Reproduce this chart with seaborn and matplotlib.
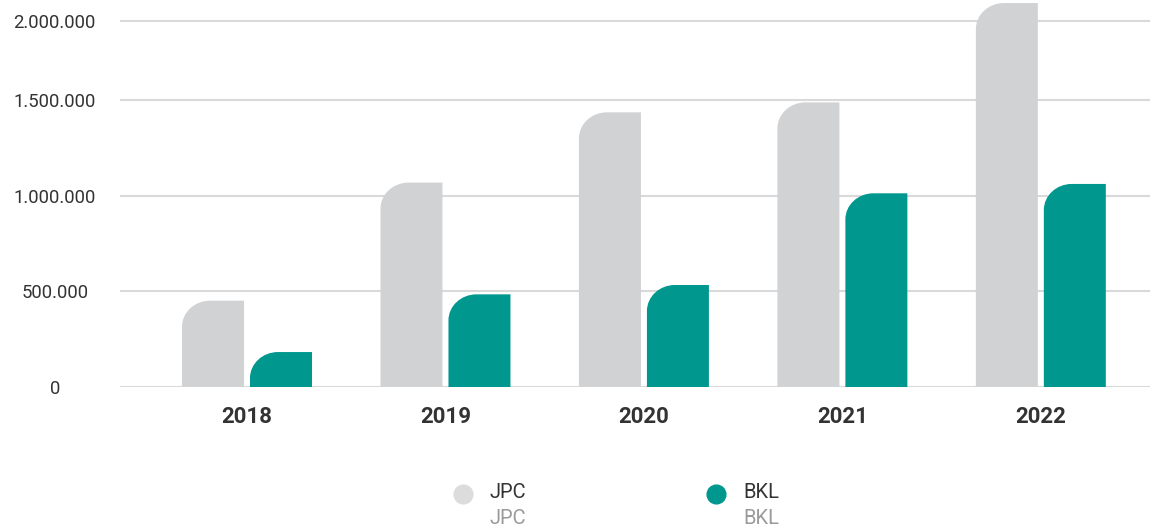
import matplotlib
matplotlib.use("Agg")
import matplotlib.pyplot as plt
import seaborn as sns
import pandas as pd
from matplotlib.path import Path
from matplotlib.patches import PathPatch
from matplotlib.lines import Line2D

years = ["2018", "2019", "2020", "2021", "2022"]
series_names = ["JPC", "BKL"]
jpc = [452000, 1070000, 1438000, 1490000, 2010000]
bkl = [183000, 485000, 534000, 1014000, 1063000]
tick_values = [0, 500000, 1000000, 1500000, 1916000]
tick_labels = ["0", "500.000", "1.000.000", "1.500.000", "2.000.000"]

gray = "#d1d2d4"
teal = "#00978f"
legend_gray = "#dcdcdc"
text_dark = "#333333"
text_light = "#9a9a9a"

df = pd.DataFrame({
    "year": years * 2,
    "value": jpc + bkl,
    "series": [series_names[0]] * len(years) + [series_names[1]] * len(years),
})

sns.set_theme(style="white")
plt.rcParams["font.family"] = ["Roboto", "DejaVu Sans"]

W, H = 1150, 529
fig = plt.figure(figsize=(W / 100, H / 100), dpi=100)
ax = fig.add_axes([120 / W, (H - 387) / H, (W - 120) / W, 387 / H])

sns.barplot(data=df, x="year", y="value", hue="series", palette=[gray, teal],
            width=0.685, gap=0.088, saturation=1, legend=False, ax=ax, zorder=3)

ax.set_xlim(-0.64, 4.55)
ax.set_ylim(0, 2026000)
ax.set_yticks(tick_values)
ax.set_yticklabels(tick_labels)
ax.grid(axis="y", color="#d9d9d9", linewidth=1.5, zorder=0)
ax.grid(axis="x", visible=False)
for s in ax.spines.values():
    s.set_visible(False)
ax.set_xlabel("")
ax.set_ylabel("")
ax.tick_params(axis="x", length=0, pad=14, labelsize=16, labelcolor=text_dark)
ax.tick_params(axis="y", length=0, pad=47, labelsize=13.3, labelcolor=text_dark)
for lab in ax.get_xticklabels():
    lab.set_fontweight("bold")
for lab in ax.get_yticklabels():
    lab.set_horizontalalignment("center")

# round top-left corner of bars
fig.canvas.draw()
axw_px = ax.get_window_extent().width
axh_px = ax.get_window_extent().height
xl = ax.get_xlim()
yl = ax.get_ylim()
dx = (xl[1] - xl[0]) / axw_px
dy = (yl[1] - yl[0]) / axh_px
rx_px, ry_px = 28, 26
k = 0.5523
for p in list(ax.patches):
    x0, y0 = p.get_x(), p.get_y()
    w, h = p.get_width(), p.get_height()
    if h <= 0:
        continue
    x1, y1 = x0 + w, y0 + h
    rx = min(rx_px * dx, w)
    ry = min(ry_px * dy, h)
    verts = [
        (x0, y0), (x0, y1 - ry),
        (x0, y1 - ry + k * ry), (x0 + rx - k * rx, y1), (x0 + rx, y1),
        (x1, y1), (x1, y0), (x0, y0),
    ]
    codes = [Path.MOVETO, Path.LINETO, Path.CURVE4, Path.CURVE4, Path.CURVE4,
             Path.LINETO, Path.LINETO, Path.CLOSEPOLY]
    fc = p.get_facecolor()
    newp = PathPatch(Path(verts, codes), facecolor=fc, edgecolor="none", zorder=3)
    p.remove()
    ax.add_patch(newp)

# legend
def fx(x):
    return x / W

def fy(y):
    return 1 - y / H

leg = [(series_names[0], legend_gray, 463, 490), (series_names[1], teal, 716, 743)]
for name, col, cx, tx in leg:
    fig.add_artist(Line2D([fx(cx)], [fy(494)], marker="o", markersize=13.5,
                          color=col, linestyle="none", transform=fig.transFigure))
    fig.text(fx(tx), fy(493), name, fontsize=14.5, color=text_dark,
             ha="left", va="center")
    fig.text(fx(tx), fy(518), name, fontsize=14.5, color=text_light,
             ha="left", va="center")

fig.savefig("out.png", dpi=100, facecolor="white")
